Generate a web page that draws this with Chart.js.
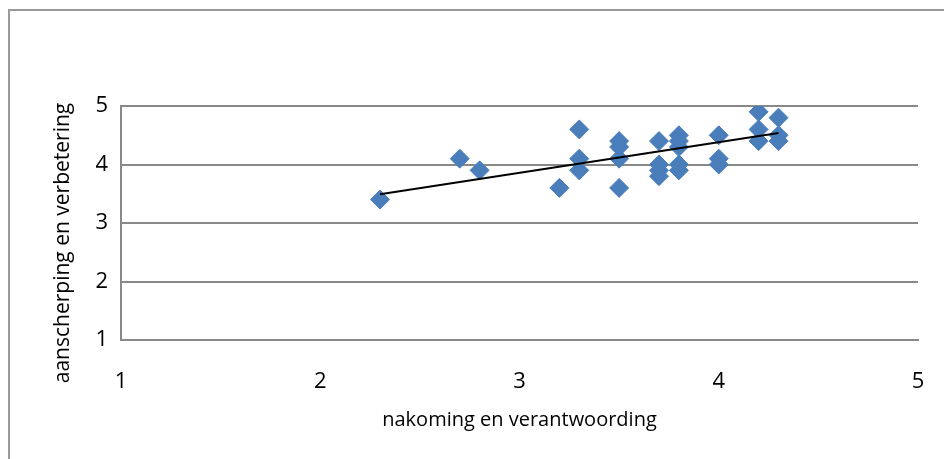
<!DOCTYPE html>
<html>
<head>
<meta charset="utf-8">
<script src="https://cdn.jsdelivr.net/npm/chart.js@4.4.0/dist/chart.umd.min.js"></script>
<style>
  html, body { margin: 0; padding: 0; background: #fff; overflow: hidden; }
  #frame { position: absolute; left: 8px; top: 9px; width: 1000px; height: 1000px; border: 2px solid #9a9a9a; }
  #wrap { position: absolute; left: 0; top: 0; width: 944px; height: 459px; }
</style>
</head>
<body>
<div id="frame"></div>
<div id="wrap"><canvas id="chart" width="944" height="459"></canvas></div>
<script>
// nakoming en verantwoording (x) vs aanscherping en verbetering (y)
const xValues = [2.3, 2.7, 2.8, 3.2, 3.3, 3.3, 3.3, 3.5, 3.5, 3.5, 3.5, 3.7, 3.7, 3.7, 3.7,
                 3.8, 3.8, 3.8, 3.8, 3.8, 4.0, 4.0, 4.0, 4.2, 4.2, 4.2, 4.3, 4.3, 4.3];
const yValues = [3.4, 4.1, 3.9, 3.6, 4.6, 4.1, 3.9, 4.4, 4.3, 4.1, 3.6, 4.4, 4.0, 3.9, 3.8,
                 4.5, 4.4, 4.3, 4.0, 3.9, 4.5, 4.1, 4.0, 4.9, 4.6, 4.4, 4.8, 4.5, 4.4];
// linear trendline, end points
const trendX = [2.3, 4.3];
const trendY = [3.49, 4.54];
const xTicks = [1, 2, 3, 4, 5];
const yTicks = [1, 2, 3, 4, 5];
const xTitle = 'nakoming en verantwoording';
const yTitle = 'aanscherping en verbetering';

const FONT = "'Open Sans', 'DejaVu Sans', sans-serif";
const GRID = '#898989';

const points = xValues.map((x, i) => ({ x, y: yValues[i] }));
const trend = trendX.map((x, i) => ({ x, y: trendY[i] }));

// y axis title sits a bit below the plot centre, like the original
const yTitlePlugin = {
  id: 'yTitle',
  afterDraw(chart) {
    const { ctx, chartArea } = chart;
    ctx.save();
    ctx.translate(63, (chartArea.top + chartArea.bottom) / 2 + 20);
    ctx.rotate(-Math.PI / 2);
    ctx.font = '21px ' + FONT;
    ctx.fillStyle = '#000';
    ctx.textAlign = 'center';
    ctx.textBaseline = 'middle';
    ctx.fillText(yTitle, 0, 0);
    ctx.restore();
  }
};

new Chart(document.getElementById('chart').getContext('2d'), {
  type: 'scatter',
  data: {
    datasets: [{
      label: 'data',
      data: points,
      pointStyle: 'rectRot',
      pointRadius: 9.5,
      pointHoverRadius: 9.5,
      backgroundColor: '#4A7EBB',
      borderColor: '#4A7EBB',
      borderWidth: 1,
      order: 2,
    }, {
      label: 'trend',
      type: 'line',
      data: trend,
      borderColor: '#000',
      borderWidth: 2,
      pointRadius: 0,
      fill: false,
      order: 1,
    }]
  },
  options: {
    responsive: false,
    animation: false,
    layout: { padding: { top: 106, right: 26, left: 0, bottom: 0 } },
    plugins: { legend: { display: false }, tooltip: { enabled: false } },
    scales: {
      x: {
        type: 'linear', min: 1, max: 5,
        afterBuildTicks: s => { s.ticks = xTicks.map(v => ({ value: v })); },
        afterFit: s => { s.height = 119; s.paddingLeft = 0; s.paddingRight = 0; },
        grid: { display: false, drawTicks: false },
        border: { display: true, color: GRID, width: 2 },
        ticks: { color: '#000', font: { family: FONT, size: 22 }, padding: 29, maxRotation: 0 },
        title: { display: true, text: xTitle, color: '#000', font: { family: FONT, size: 20 }, padding: { bottom: 27 } },
      },
      y: {
        type: 'linear', min: 1, max: 5,
        afterBuildTicks: s => { s.ticks = yTicks.map(v => ({ value: v })); },
        afterFit: s => { s.width = 121; },
        grid: { color: GRID, lineWidth: 2, drawTicks: false },
        border: { display: true, color: GRID, width: 2 },
        ticks: { color: '#000', font: { family: FONT, size: 22 }, padding: 13 },
      }
    }
  },
  plugins: [yTitlePlugin]
});
</script>
</body>
</html>
